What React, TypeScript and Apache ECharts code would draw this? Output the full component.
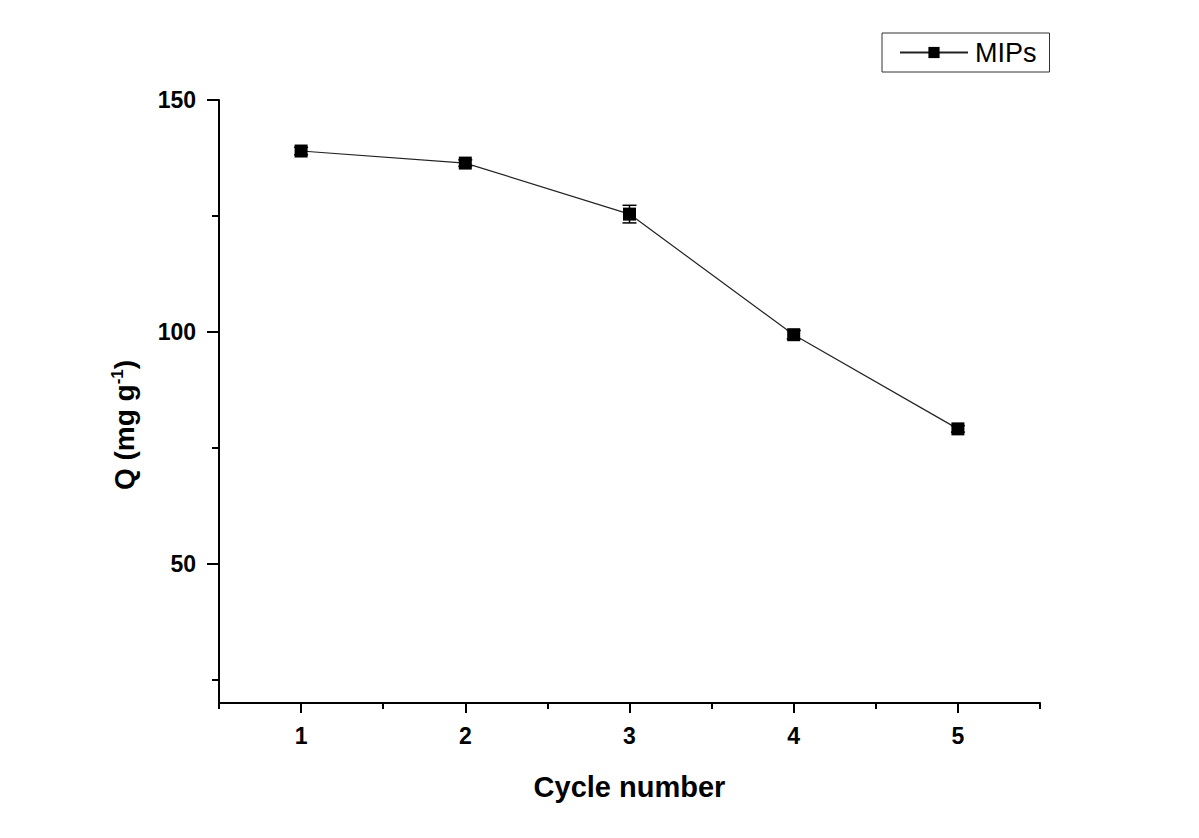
import React, { useEffect, useRef } from "react";
import * as echarts from "echarts";

const cycles = [1, 2, 3, 4, 5];
const qValues = [139.0, 136.4, 125.4, 99.4, 79.1];
const qErrors = [0.8, 0.7, 1.9, 0.9, 0.7];
const yMajorTicks = [50, 100, 150];
const yMinorTicks = [25, 75, 125];
const xMajorTicks = [1, 2, 3, 4, 5];
const xMinorTicks = [0.5, 1.5, 2.5, 3.5, 4.5, 5.5];

export default function App() {
  const ref = useRef<HTMLDivElement>(null);
  useEffect(() => {
    document.body.style.margin = "0";
    const chart = echarts.init(ref.current!, null, { renderer: "svg" });
    const font = "Liberation Sans, Arial, sans-serif";
    const black = "#000";
    const xBase = {
      type: "value" as const,
      min: 0.5,
      max: 5.5,
      splitLine: { show: false },
      axisLine: { show: true, onZero: false, lineStyle: { color: black, width: 2 } },
    };
    const yBase = {
      type: "value" as const,
      min: 20,
      max: 150,
      splitLine: { show: false },
      axisLine: { show: true, onZero: false, lineStyle: { color: black, width: 2 } },
    };
    chart.setOption({
      animation: false,
      backgroundColor: "#fff",
      grid: { left: 219, top: 100, right: 159, bottom: 135, containLabel: false },
      legend: {
        left: 882,
        top: 33,
        padding: [6, 13, 6, 17],
        borderColor: "#333",
        borderWidth: 1,
        itemWidth: 68,
        itemHeight: 14,
        itemGap: 6,
        textStyle: { fontFamily: font, fontSize: 27, color: black, padding: [0, 0, 0, 2] },
        data: ["MIPs"],
      },
      graphic: [
        {
          type: "text",
          x: 124,
          y: 425,
          rotation: Math.PI / 2,
          style: {
            text: "Q (mg g{sup|-1})",
            fontFamily: font,
            fontSize: 28,
            fontWeight: "bold",
            fill: black,
            align: "center",
            verticalAlign: "middle",
            rich: {
              sup: { fontFamily: font, fontSize: 17, fontWeight: "bold", fill: black, verticalAlign: "top", padding: [0, 0, 14, 0] },
            },
          },
        },
      ],
      xAxis: [
        {
          ...xBase,
          name: "Cycle number",
          nameLocation: "middle",
          nameGap: 69,
          nameTextStyle: { fontFamily: font, fontSize: 29, fontWeight: "bold", color: black },
          axisTick: { show: true, customValues: xMajorTicks, length: 10, lineStyle: { color: black, width: 2 } },
          axisLabel: {
            customValues: xMajorTicks,
            margin: 21,
            fontFamily: font,
            fontSize: 23,
            fontWeight: "bold",
            color: black,
          },
        },
        {
          ...xBase,
          position: "bottom",
          axisLine: { show: false },
          axisTick: { show: true, customValues: xMinorTicks, length: 6, lineStyle: { color: black, width: 2 } },
          axisLabel: { show: false },
        },
      ],
      yAxis: [
        {
          ...yBase,
          axisTick: { show: true, customValues: yMajorTicks, length: 12, lineStyle: { color: black, width: 2 } },
          axisLabel: {
            customValues: yMajorTicks,
            margin: 23,
            fontFamily: font,
            fontSize: 23,
            fontWeight: "bold",
            color: black,
          },
        },
        {
          ...yBase,
          position: "left",
          axisLine: { show: false },
          axisTick: { show: true, customValues: yMinorTicks, length: 7, lineStyle: { color: black, width: 2 } },
          axisLabel: { show: false },
        },
      ],
      series: [
        {
          name: "MIPs",
          type: "line",
          data: cycles.map((c, i) => [c, qValues[i]]),
          symbol: "rect",
          symbolSize: 13,
          itemStyle: { color: black },
          lineStyle: { color: "#222", width: 1.2 },
          z: 3,
        },
        {
          name: "err",
          type: "custom",
          data: cycles.map((c, i) => [c, qValues[i] - qErrors[i], qValues[i] + qErrors[i]]),
          renderItem: (params: any, api: any) => {
            const x = api.value(0);
            const lo = api.coord([x, api.value(1)]);
            const hi = api.coord([x, api.value(2)]);
            const w = 7;
            const st = { stroke: black, lineWidth: 1.5 };
            return {
              type: "group",
              children: [
                { type: "line", shape: { x1: lo[0], y1: lo[1], x2: hi[0], y2: hi[1] }, style: st },
                { type: "line", shape: { x1: lo[0] - w, y1: lo[1], x2: lo[0] + w, y2: lo[1] }, style: st },
                { type: "line", shape: { x1: hi[0] - w, y1: hi[1], x2: hi[0] + w, y2: hi[1] }, style: st },
              ],
            };
          },
          z: 2,
        },
      ],
    });
    return () => chart.dispose();
  }, []);
  return <div ref={ref} style={{ position: "absolute", left: 0, top: 0, width: 1199, height: 838 }} />;
}
